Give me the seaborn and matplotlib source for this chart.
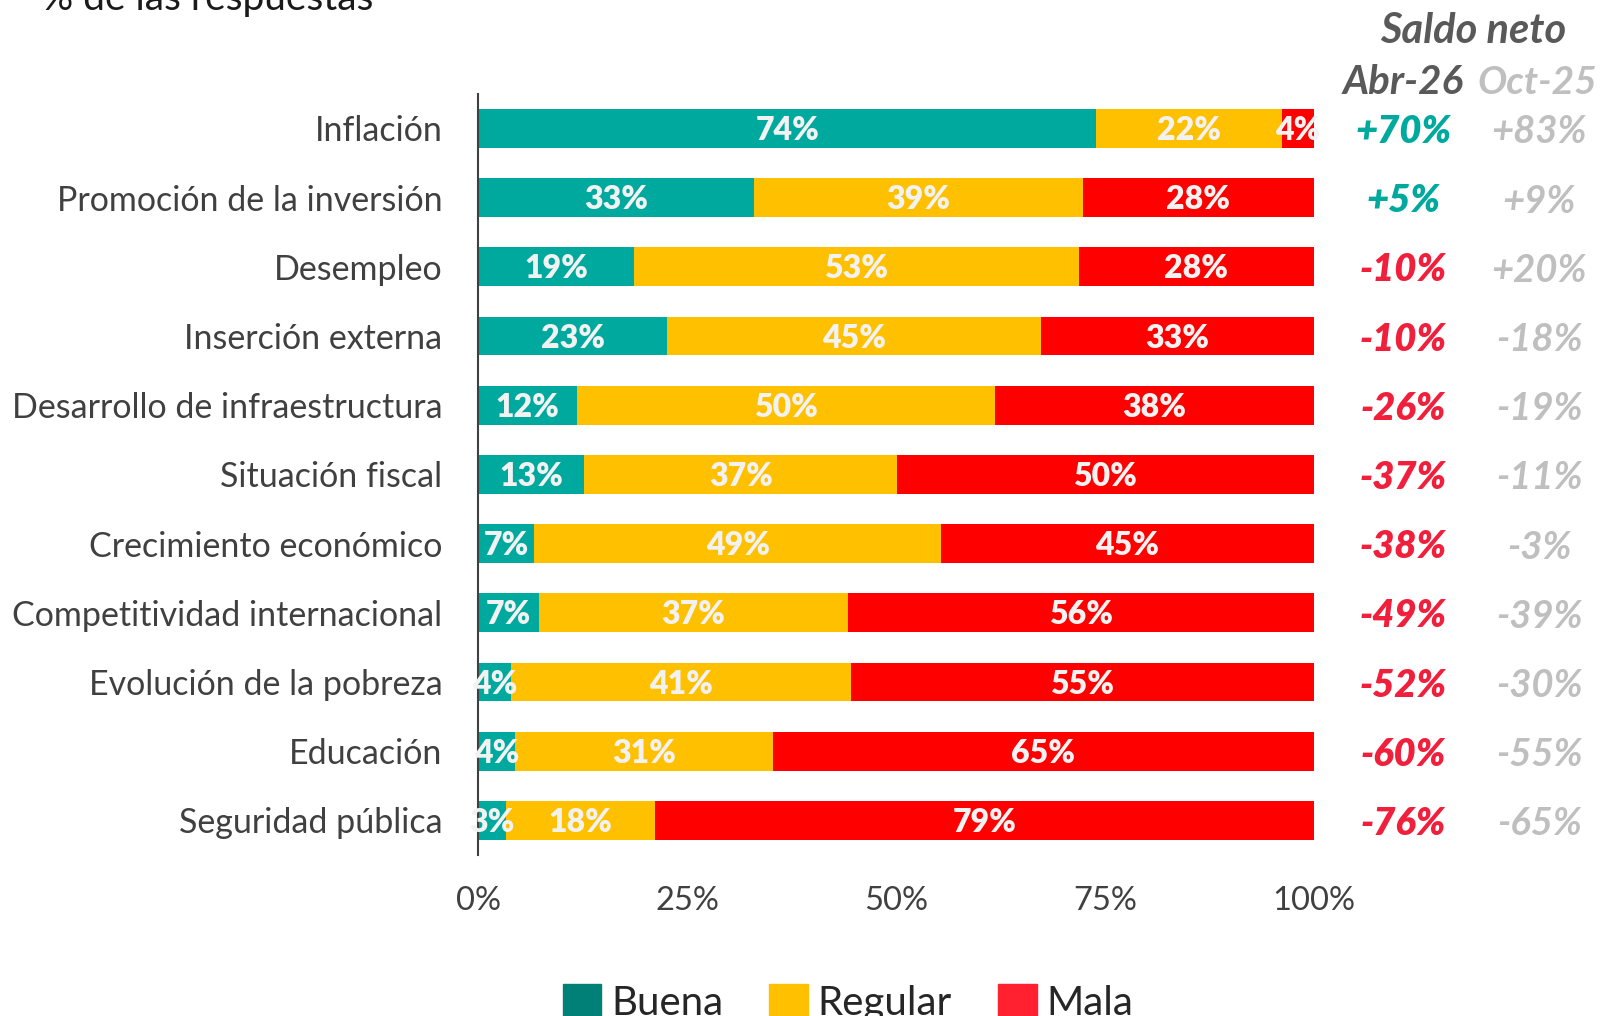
import matplotlib
matplotlib.use('Agg')
import matplotlib.pyplot as plt
import matplotlib.transforms as mtransforms
from matplotlib.patches import Patch
import numpy as np
import pandas as pd
import seaborn as sns

sns.set_style('white')
plt.rcParams['font.family'] = ['Lato', 'DejaVu Sans']

# ---------------------------------------------------------------------------
categories = ['Inflación', 'Promoción de la inversión', 'Desempleo',
              'Inserción externa', 'Desarrollo de infraestructura',
              'Situación fiscal', 'Crecimiento económico',
              'Competitividad internacional', 'Evolución de la pobreza',
              'Educación', 'Seguridad pública']
buena = [74.0, 33.0, 18.6, 22.6, 11.8, 12.7, 6.7, 7.2, 3.9, 4.4, 3.3]
regular = [22.2, 39.4, 53.3, 44.8, 50.1, 37.4, 48.7, 37.0, 40.7, 30.9, 17.9]
mala = [3.8, 27.6, 28.1, 32.6, 38.1, 49.9, 44.6, 55.8, 55.4, 64.7, 78.8]
saldo_abr26 = [70, 5, -10, -10, -26, -37, -38, -49, -52, -60, -76]
saldo_oct25 = [83, 9, 20, -18, -19, -11, -3, -39, -30, -55, -65]
xticks = [0, 25, 50, 75, 100]
# ---------------------------------------------------------------------------

teal = '#00A99D'
yellow = '#FFC000'
red = '#FF0000'
dark = '#404040'

df = pd.DataFrame({'cat': categories, 'buena': buena,
                   'regular': regular, 'mala': mala})
df['c1'] = df['buena']
df['c2'] = df['buena'] + df['regular']
df['c3'] = df['c2'] + df['mala']

fig = plt.figure(figsize=(16, 10.16), dpi=100)
ax = fig.add_axes([0.299, 0.1584, 0.522, 0.7492])

bw = 0.56
sns.barplot(data=df, y='cat', x='c3', color=red, width=bw, saturation=1,
            orient='h', ax=ax, linewidth=0)
sns.barplot(data=df, y='cat', x='c2', color=yellow, width=bw, saturation=1,
            orient='h', ax=ax, linewidth=0)
sns.barplot(data=df, y='cat', x='c1', color=teal, width=bw, saturation=1,
            orient='h', ax=ax, linewidth=0)

# segment labels
for i, row in df.iterrows():
    starts = [0, row['c1'], row['c2']]
    vals = [row['buena'], row['regular'], row['mala']]
    for s, v in zip(starts, vals):
        ax.text(s + v / 2, i + 0.03, f'{v:.0f}%', ha='center', va='center',
                color='#F2F2F2', fontsize=23, fontweight='heavy')

ax.set_xlim(0, 100)
ax.set_ylim(10.5, -0.5)
ax.set_xticks(xticks)
ax.set_xticklabels([f'{t}%' for t in xticks])
ax.set_xlabel('')
ax.set_ylabel('')
ax.tick_params(axis='x', length=0, pad=22, labelsize=23.5, labelcolor=dark)
ax.tick_params(axis='y', length=0, pad=26, labelsize=24.5, labelcolor=dark)
for sp in ['top', 'right', 'bottom']:
    ax.spines[sp].set_visible(False)
ax.spines['left'].set_color(dark)
ax.spines['left'].set_linewidth(1.5)

# net balance columns
trans = mtransforms.blended_transform_factory(fig.transFigure, ax.transData)
for i, (a, o) in enumerate(zip(saldo_abr26, saldo_oct25)):
    ca = teal if a > 0 else '#F0203C'
    ax.text(0.877, i + 0.05, f'{a:+d}%', transform=trans, ha='center',
            va='center', color=ca, fontsize=27.5, fontweight='heavy',
            style='italic', clip_on=False)
    ax.text(0.962, i + 0.05, f'{o:+d}%', transform=trans, ha='center',
            va='center', color='#BFBFBF', fontsize=27.5, fontweight='bold',
            style='italic', clip_on=False)

fig.text(0.921, 1 - 31 / 1016, 'Saldo neto', ha='center', va='center',
         color='#595959', fontsize=30, fontweight='bold', style='italic')
fig.text(0.877, 1 - 82 / 1016, 'Abr-26', ha='center', va='center',
         color='#595959', fontsize=29, fontweight='bold', style='italic')
fig.text(0.961, 1 - 82 / 1016, 'Oct-25', ha='center', va='center',
         color='#BFBFBF', fontsize=28, fontweight='bold', style='italic')

fig.text(0.026, 1 - 10 / 1016, '% de las respuestas', ha='left',
         va='baseline', color='#1A1A1A', fontsize=28)

handles = [Patch(color='#008076', label='Buena'),
           Patch(color=yellow, label='Regular'),
           Patch(color='#FF2030', label='Mala')]
fig.legend(handles=handles, loc='upper center', ncol=3,
           bbox_to_anchor=(0.53, 1 - 968 / 1016), frameon=False,
           fontsize=29, handlelength=0.95, handleheight=0.95,
           handletextpad=0.25, columnspacing=1.15, borderaxespad=0)

fig.savefig('out.png', dpi=100)
